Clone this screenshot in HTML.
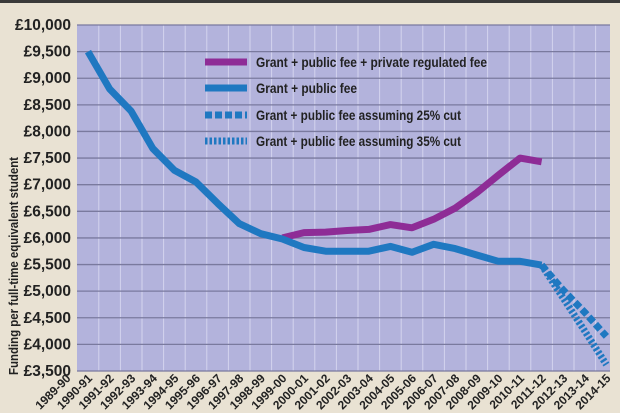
<!DOCTYPE html>
<html><head><meta charset="utf-8"><style>
html,body{margin:0;padding:0;background:#e9e2d3;}
svg{display:block;font-family:"Liberation Sans Narrow","Liberation Sans",sans-serif;font-weight:bold;}
</style></head><body>
<svg id="chart" width="620" height="413" viewBox="0 0 620 413" xmlns="http://www.w3.org/2000/svg">
<rect x="0" y="0" width="620" height="413" fill="#e9e2d3"/>
<rect x="0" y="0" width="620" height="3" fill="#3a3a3a"/>
<g id="plot"></g>
<text transform="translate(18,266) rotate(-90)" text-anchor="middle" font-size="12.5" fill="#222" textLength="218" lengthAdjust="spacingAndGlyphs">Funding per full-time equivalent student</text>
</svg>
<script>
const categories=["1989-90","1990-91","1991-92","1992-93","1993-94","1994-95","1995-96","1996-97","1997-98","1998-99","1999-00","2000-01","2001-02","2002-03","2003-04","2004-05","2005-06","2006-07","2007-08","2008-09","2009-10","2010-11","2011-12","2012-13","2013-14","2014-15"];
const yTicks=[3500,4000,4500,5000,5500,6000,6500,7000,7500,8000,8500,9000,9500,10000];
const yTickLabels=["£3,500","£4,000","£4,500","£5,000","£5,500","£6,000","£6,500","£7,000","£7,500","£8,000","£8,500","£9,000","£9,500","£10,000"];
const blueValues=[null,9500,8800,8380,7680,7270,7050,6650,6270,6080,5980,5820,5750,5750,5750,5840,5730,5880,5800,5680,5560,5560,5490,null,null,null];
const purpleValues=[null,null,null,null,null,null,null,null,null,null,6000,6100,6110,6140,6160,6250,6190,6350,6560,6850,7180,7500,7430,null,null,null];
const cut25Values=[null,null,null,null,null,null,null,null,null,null,null,null,null,null,null,null,null,null,null,null,null,null,5490,5020,4600,4150];
const cut35Values=[null,null,null,null,null,null,null,null,null,null,null,null,null,null,null,null,null,null,null,null,null,null,5490,4870,4250,3620];
const legendLabels=["Grant + public fee + private regulated fee","Grant + public fee","Grant + public fee assuming 25% cut","Grant + public fee assuming 35% cut"];

const NS="http://www.w3.org/2000/svg";
const plot=document.getElementById('plot');
const L=77,R=610,T=25,B=371,Y0=3500,Y1=10000;
function x(i){return 66.4+21.6*i;}
function y(v){return B-(v-Y0)/(Y1-Y0)*(B-T);}
function mk(tag,attrs,parent){const e=document.createElementNS(NS,tag);for(const k in attrs)e.setAttribute(k,attrs[k]);(parent||plot).appendChild(e);return e;}

let bg=mk('rect',{x:L,y:T,width:R-L,height:B-T,fill:'#b3b3dc'});


for(let i=1;i<categories.length;i++){
  const gx=x(i)+10.8; if(gx>=R)continue;
  let g=mk('line',{x1:gx,x2:gx,y1:T,y2:B,stroke:'#d4d4ee','stroke-width':1});
  
  
}
yTicks.forEach((v,k)=>{
  let g=mk('line',{x1:L,x2:R,y1:y(v),y2:y(v),stroke:'#7a7a9e','stroke-width':1.3});
  
  
  let t=mk('text',{x:71,y:y(v)+5,'text-anchor':'end','font-size':15.5,fill:'#222'});
  t.textContent=yTickLabels[k];
  
  
});
categories.forEach((c,i)=>{
  let t=mk('text',{transform:`translate(${x(i)+5},${B+8}) rotate(-45)`,'text-anchor':'end','font-size':12,fill:'#222'});
  t.textContent=c;
  
  
});
function series(vals,color,dash,width,name){
  const pts=[];vals.forEach((v,i)=>{if(v!==null)pts.push(x(i).toFixed(1)+','+y(v).toFixed(1));});
  const a={points:pts.join(' '),fill:'none',stroke:color,'stroke-width':width,'stroke-linejoin':'round'};
  if(dash)a['stroke-dasharray']=dash;
  let p=mk('polyline',a);
  
  
}
series(cut35Values,'#1f78c1','2.5 2',7,'series-35-cut');
series(cut25Values,'#1f78c1','7 3',7,'series-25-cut');
series(purpleValues,'#8e2c96',null,7,'series-grant-public-private');
series(blueValues,'#1f78c1',null,7,'series-grant-public');

const legY=[62,88,115,141];
const legStyles=[['#8e2c96',null],['#1f78c1',null],['#1f78c1','7 3'],['#1f78c1','2.5 2']];
const legW=[231,101,205,205];
legendLabels.forEach((lab,k)=>{
  const a={x1:205,x2:247,y1:legY[k],y2:legY[k],stroke:legStyles[k][0],'stroke-width':7};
  if(legStyles[k][1])a['stroke-dasharray']=legStyles[k][1];
  let s=mk('line',a);
  
  
  let t=mk('text',{x:256,y:legY[k]+5,'font-size':14,fill:'#222',textLength:legW[k],lengthAdjust:'spacingAndGlyphs'});
  t.textContent=lab;
  
  
});
</script>
</body></html>
